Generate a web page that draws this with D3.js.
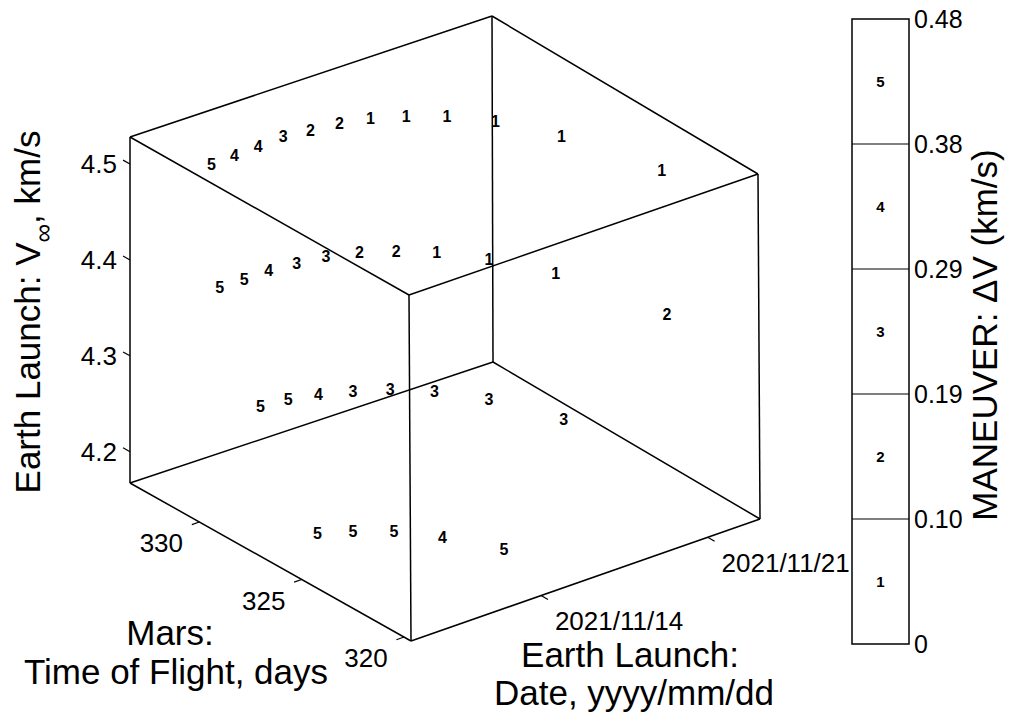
<!DOCTYPE html>
<html>
<head>
<meta charset="utf-8">
<script src="https://cdn.jsdelivr.net/npm/d3@7"></script>
<style>
  body { margin: 0; background: #fff; }
  svg text { font-family: "Liberation Sans", Arial, Helvetica, sans-serif; fill: #000; }
</style>
</head>
<body>
<script>
// launch date = day of November 2021, flight time in days, launch V-inf in km/s, maneuver bin
const launchDay = [
  10.62, 11.61, 12.62, 13.68, 14.68, 15.72, 16.74, 17.76, 18.82, 19.85, 20.90, 22.00,
  9.58, 10.60, 11.60, 12.65, 13.70, 14.74, 15.73, 16.75, 17.79, 18.90, 20.01,
  9.61, 10.62, 11.63, 12.66, 13.70, 14.73, 15.80, 16.87,
  9.63, 10.65, 11.67, 12.70, 13.74
];
const flightTime = [
  331.90, 331.97, 332.03, 332.08, 331.94, 331.77, 331.47, 330.94, 330.18, 328.99, 326.93, 323.15,
  330.24, 330.26, 330.26, 330.15, 329.97, 329.57, 328.94, 328.15, 326.79, 324.77, 320.46,
  328.28, 328.13, 327.84, 327.38, 326.78, 325.82, 324.39, 321.92,
  325.51, 324.98, 324.18, 323.00, 321.18
];
const vInf = [
  4.5, 4.5, 4.5, 4.5, 4.5, 4.5, 4.5, 4.5, 4.5, 4.5, 4.5, 4.5,
  4.4, 4.4, 4.4, 4.4, 4.4, 4.4, 4.4, 4.4, 4.4, 4.4, 4.4,
  4.3, 4.3, 4.3, 4.3, 4.3, 4.3, 4.3, 4.3,
  4.2, 4.2, 4.2, 4.2, 4.2
];
const maneuver = [
  5, 4, 4, 3, 2, 2, 1, 1, 1, 1, 1, 1,
  5, 5, 4, 3, 3, 2, 2, 1, 1, 1, 2,
  5, 5, 4, 3, 3, 3, 3, 3,
  5, 5, 5, 4, 5
];

const vTicks = [4.2, 4.3, 4.4, 4.5];
const tofTicks = [320, 325, 330];
const dateTicks = [14, 21];

const dvEdges = [0, 0.0958, 0.1916, 0.2874, 0.3832, 0.479];
const dvLabels = ['0', '0.10', '0.19', '0.29', '0.38', '0.48'];
const bins = [1, 2, 3, 4, 5];

const toDate = d => new Date(Date.UTC(2021, 10, 0) + d * 864e5);

const svg = d3.select('body').append('svg')
  .attr('width', 1028)
  .attr('height', 718);

const xS = d3.scaleUtc().domain([toDate(8.539), toDate(23.199)]).range([0, 1]);
const yS = d3.scaleLinear().domain([319.657, 333.39]).range([0, 1]);
const zS = d3.scaleLinear().domain([4.1674, 4.5282]).range([0, 1]);

// box corners on screen: F = first date / shortest flight, R = last date, L = longest flight, B = back
const lower = {F: [411, 641], R: [760, 519], L: [130, 483], B: [493, 362]};
const upper = {F: [409, 295], R: [758, 174], L: [130, 137], B: [492, 16]};

function proj(u, v, w) {
  const bl = (c, i) => c.F[i] * (1 - u) * (1 - v) + c.R[i] * u * (1 - v)
    + c.L[i] * (1 - u) * v + c.B[i] * u * v;
  return [0, 1].map(i => bl(lower, i) * (1 - w) + bl(upper, i) * w);
}

// 12 edges of the box
const edges = [];
[0, 1].forEach(a => [0, 1].forEach(b => {
  edges.push([[0, a, b], [1, a, b]]);
  edges.push([[a, 0, b], [a, 1, b]]);
  edges.push([[a, b, 0], [a, b, 1]]);
}));
svg.append('g').selectAll('line')
  .data(edges)
  .enter()
  .append('line')
  .attr('x1', d => proj(...d[0])[0])
  .attr('y1', d => proj(...d[0])[1])
  .attr('x2', d => proj(...d[1])[0])
  .attr('y2', d => proj(...d[1])[1])
  .attr('stroke', '#000')
  .attr('stroke-width', 1.5);

const tickLen = 8;
function unit(dx, dy) { const n = Math.hypot(dx, dy); return [dx / n * tickLen, dy / n * tickLen]; }

// V-inf ticks on left vertical edge
const zDir = unit(-281, -158);
const zAxis = svg.append('g');
vTicks.forEach(t => {
  const p = proj(0, 1, zS(t));
  zAxis.append('line')
    .attr('x1', p[0]).attr('y1', p[1])
    .attr('x2', p[0] + zDir[0]).attr('y2', p[1] + zDir[1])
    .attr('stroke', '#000').attr('stroke-width', 1.2);
  zAxis.append('text')
    .attr('x', p[0] - 13).attr('y', p[1])
    .attr('dy', '0.36em')
    .attr('text-anchor', 'end')
    .attr('font-size', 26)
    .text(d3.format('.1f')(t));
});

// flight time ticks
const yDir = unit(-349, 122);
const yAxis = svg.append('g');
tofTicks.forEach(t => {
  const p = proj(0, yS(t), 0);
  yAxis.append('line')
    .attr('x1', p[0]).attr('y1', p[1])
    .attr('x2', p[0] + yDir[0]).attr('y2', p[1] + yDir[1])
    .attr('stroke', '#000').attr('stroke-width', 1.2);
  yAxis.append('text')
    .attr('x', p[0] - 38).attr('y', p[1] + 21)
    .attr('dy', '0.36em')
    .attr('text-anchor', 'middle')
    .attr('font-size', 26)
    .text(t);
});

// launch date ticks
const xDir = unit(281, 158);
const xAxis = svg.append('g');
dateTicks.forEach(t => {
  const p = proj(xS(toDate(t)), 0, 0);
  xAxis.append('line')
    .attr('x1', p[0]).attr('y1', p[1])
    .attr('x2', p[0] + xDir[0]).attr('y2', p[1] + xDir[1])
    .attr('stroke', '#000').attr('stroke-width', 1.2);
  xAxis.append('text')
    .attr('x', p[0] + 78).attr('y', p[1] + 25)
    .attr('dy', '0.36em')
    .attr('text-anchor', 'middle')
    .attr('font-size', 26)
    .text(d3.utcFormat('%Y/%m/%d')(toDate(t)));
});

// maneuver labels
svg.append('g').selectAll('text')
  .data(maneuver)
  .enter()
  .append('text')
  .attr('transform', (d, i) => {
    const p = proj(xS(toDate(launchDay[i])), yS(flightTime[i]), zS(vInf[i]));
    return `translate(${p[0]},${p[1]})`;
  })
  .attr('dy', '0.36em')
  .attr('text-anchor', 'middle')
  .attr('font-size', 16)
  .attr('font-weight', 'bold')
  .text(d => d);

// axis titles
const vTitle = svg.append('text')
  .attr('transform', 'translate(40,312) rotate(-90)')
  .attr('text-anchor', 'middle')
  .attr('font-size', 35);
vTitle.append('tspan').text('Earth Launch: V');
vTitle.append('tspan').attr('dy', 12).attr('font-size', 26).text('\u221e');
vTitle.append('tspan').attr('dy', -12).text(', km/s');

svg.append('text').attr('x', 170).attr('y', 645)
  .attr('text-anchor', 'middle').attr('font-size', 35).text('Mars:');
svg.append('text').attr('x', 176).attr('y', 684)
  .attr('text-anchor', 'middle').attr('font-size', 35).text('Time of Flight, days');
svg.append('text').attr('x', 630).attr('y', 667)
  .attr('text-anchor', 'middle').attr('font-size', 35).text('Earth Launch:');
svg.append('text').attr('x', 634).attr('y', 705)
  .attr('text-anchor', 'middle').attr('font-size', 35).text('Date, yyyy/mm/dd');

// colorbar
const cS = d3.scaleLinear().domain([0, 0.479]).range([644, 19]);
const bar = svg.append('g');
bar.append('rect')
  .attr('x', 852).attr('y', cS(0.479))
  .attr('width', 57).attr('height', cS(0) - cS(0.479))
  .attr('fill', '#fff').attr('stroke', '#000').attr('stroke-width', 1.5);
bar.selectAll('line.sep')
  .data(dvEdges.slice(1, -1))
  .enter()
  .append('line')
  .attr('class', 'sep')
  .attr('x1', 852).attr('x2', 909)
  .attr('y1', d => cS(d)).attr('y2', d => cS(d))
  .attr('stroke', '#000').attr('stroke-width', 1.2);
bar.selectAll('text.bin')
  .data(bins)
  .enter()
  .append('text')
  .attr('class', 'bin')
  .attr('x', 880.5)
  .attr('y', (d, i) => cS((dvEdges[i] + dvEdges[i + 1]) / 2))
  .attr('dy', '0.36em')
  .attr('text-anchor', 'middle')
  .attr('font-size', 15)
  .attr('font-weight', 'bold')
  .text(d => d);

const cAxis = svg.append('g')
  .attr('transform', 'translate(909,0)')
  .call(d3.axisRight(cS)
    .tickValues(dvEdges)
    .tickFormat((d, i) => dvLabels[i])
    .tickSize(0)
    .tickPadding(5));
cAxis.select('.domain').remove();
cAxis.selectAll('text')
  .attr('font-size', 25)
  .attr('font-family', '"Liberation Sans", Arial, Helvetica, sans-serif');

svg.append('text')
  .attr('transform', 'translate(997,335) rotate(-90)')
  .attr('text-anchor', 'middle')
  .attr('font-size', 35)
  .text('MANEUVER: \u0394V (km/s)');
</script>
</body>
</html>
